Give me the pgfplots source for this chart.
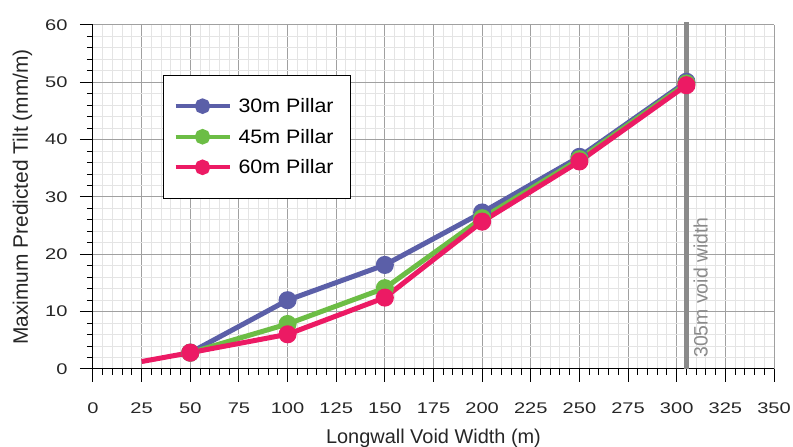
\documentclass[border=0pt]{standalone}
\usepackage{fontspec}
\setmainfont{Liberation Sans}
\newfontfamily\tickfont{Liberation Sans}[FakeStretch=1.3]
\newfontfamily\legfont{Liberation Sans}[FakeStretch=1.1]
\usepackage{pgfplots}
\pgfplotsset{compat=1.18}
\usetikzlibrary{calc}
\definecolor{c30}{HTML}{5B5FA8}
\definecolor{c45}{HTML}{6CBD45}
\definecolor{c60}{HTML}{EC1A64}
\definecolor{majgrid}{HTML}{A0A0A0}
\definecolor{mingrid}{HTML}{E4E4E4}
\definecolor{vline}{HTML}{8A8A8A}
\begin{document}
\begin{tikzpicture}
\begin{axis}[
  scale only axis, width=681bp, height=344bp,
  xmin=0, xmax=350, ymin=0, ymax=60,
  xtick={0,25,...,350}, ytick={0,10,...,60},
  minor x tick num=4, minor y tick num=4,
  grid=both,
  major grid style={draw=majgrid, line width=1bp},
  minor grid style={draw=mingrid, line width=1bp},
  axis lines=left,
  axis line style={-, black, line width=1bp},
  tick align=outside,
  major tick length=13bp, minor tick length=6bp,
  every tick/.style={black, line width=1bp},
  /pgf/number format/assume math mode=true,
  ticklabel style={font=\tickfont\fontsize{15.5}{18}\selectfont, text=black!85},
  xticklabel style={yshift=-17bp},
  yticklabel style={xshift=-9bp},
  label style={font=\fontsize{20}{24}\selectfont, text=black!85},
  xlabel={Longwall Void Width (m)},
  ylabel={Maximum Predicted Tilt (mm/m)},
  xlabel style={yshift=-9bp},
  ylabel style={yshift=6bp, font=\fontsize{21}{24}\selectfont},
  clip=false,
  legend cell align=left,
  legend style={at={(axis cs:36,51.3)}, anchor=north west, draw=black, line width=1bp,
    fill=white, font=\legfont\fontsize{19.5}{22}\selectfont, inner xsep=10bp, inner ysep=21bp,
    row sep=11bp, nodes={inner xsep=7bp, inner ysep=2bp}},
  legend image code/.code={
    \draw[#1, line width=4bp, mark=none] (0bp,0bp) -- (54bp,0bp);
    \fill[#1] (27bp,0bp) circle (5.2bp);
  },
]
\draw[vline, line width=5bp] (axis cs:305,0) -- (axis cs:305,60.6);
\node[rotate=90, anchor=north west, text=vline, font=\fontsize{19.5}{22}\selectfont, inner sep=3bp]
  at (axis cs:307,1.4) {305m void width};
\addplot[c60, line width=5bp, forget plot] coordinates {(25,1.3) (50,2.85)};
\addplot[c30, line width=5bp, mark=*, mark size=6.5bp] coordinates {
  (50,2.85) (100,12.0) (150,18.15) (200,27.3) (250,37.0) (305,50.1)};
\addlegendentry{30m Pillar}
\addplot[c45, line width=5bp, mark=*, mark size=6.5bp] coordinates {
  (50,2.85) (100,7.85) (150,14.1) (200,26.3) (250,36.6) (305,49.8)};
\addlegendentry{45m Pillar}
\addplot[c60, line width=5bp, mark=*, mark size=6.5bp] coordinates {
  (50,2.85) (100,6.05) (150,12.45) (200,25.7) (250,36.2) (305,49.5)};
\addlegendentry{60m Pillar}
\end{axis}
\pgfresetboundingbox
\path[use as bounding box] ($(current axis.south west)+(-93bp,-78bp)$) rectangle ($(current axis.north east)+(19bp,25bp)$);
\end{tikzpicture}
\end{document}
